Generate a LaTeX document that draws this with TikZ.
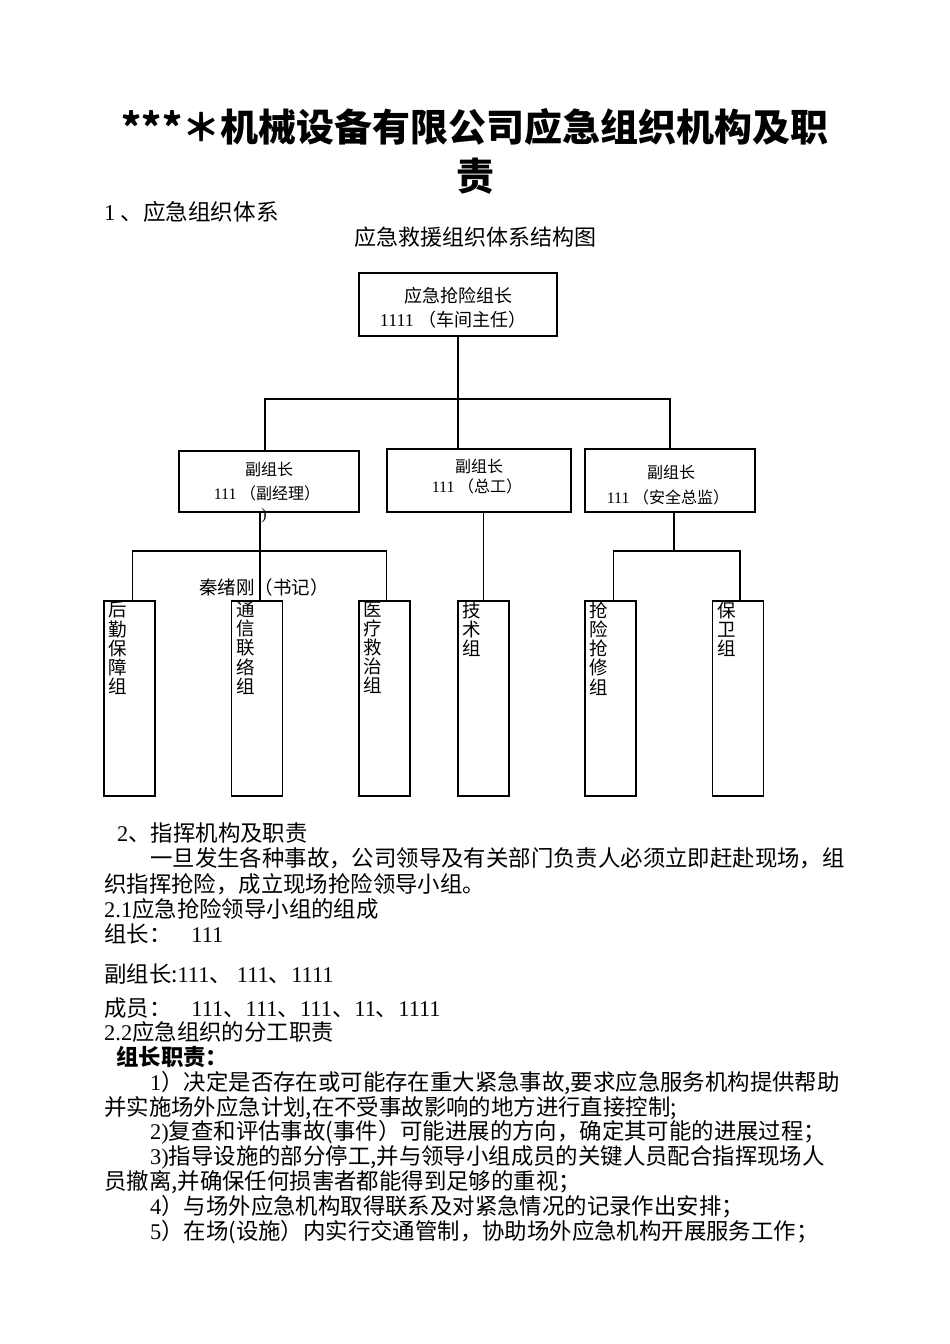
\documentclass[tikz,border=0pt]{standalone}
\usepackage{fontspec}
\setmainfont{Liberation Serif}
\newfontfamily\cjk{Noto Sans CJK SC}
\newcommand{\zh}[1]{\cjk\fontsize{#1}{#1}\selectfont}
\newcommand{\lat}[1]{{\rmfamily #1}}
\usetikzlibrary{positioning}

\begin{document}
\begin{tikzpicture}[x=1pt,y=-1pt]
\useasboundingbox (0,0) rectangle (950,1344);
% heading
\begin{scope}[every node/.style={inner sep=0pt}]
    \node[font={\zh{38}\bfseries}] (title1) at (475,127) {***＊机械设备有限公司应急组织机构及职};
    \node[font={\zh{38}\bfseries}] (title2) at (475,176) {责};
    \node[font=\zh{22.6}, anchor=west] (sec1) at (104,212) {\lat{1} 、应急组织体系};
    \node[font=\zh{22}] (charttitle) at (475,237) {应急救援组织体系结构图};
\end{scope}
% boxes of the chart
\begin{scope}[every node/.style={draw,line width=1.3pt,inner sep=0pt},
              groupbox/.style={minimum width=51pt,minimum height=195pt}]
    \node[minimum width=198pt,minimum height=63pt] (leader) at (458,304.5) {};
    \node[minimum width=180pt,minimum height=61pt] (dep1) at (269,481.5) {};
    \node[minimum width=184pt,minimum height=63pt] (dep2) at (479,480.5) {};
    \node[minimum width=170pt,minimum height=63pt] (dep3) at (670,480.5) {};
    \node[groupbox] (g1) at (129.5,698.5) {};
    \node[groupbox] (g2) at (257,698.5) {};
    \node[groupbox] (g3) at (384.5,698.5) {};
    \node[groupbox] (g4) at (483.5,698.5) {};
    \node[groupbox] (g5) at (610.5,698.5) {};
    \node[groupbox] (g6) at (738,698.5) {};
\end{scope}
% texts of the chart
\begin{scope}[every node/.style={inner sep=0pt,font=\zh{16}},
              grouptext/.style={anchor=north west,align=left,xshift=5pt,yshift=-1pt,
                                font={\cjk\fontsize{18.5}{19.2}\selectfont}}]
    \node[font=\zh{18}] (lead1) at (458,296) {应急抢险组长};
    \node[font=\zh{18}] (lead2) at (453,320) {\lat{1111} （车间主任）};
    \node (dep1a) at (269,469) {副组长};
    \node (dep1b) at (267,493) {\lat{111} （副经理）};
    \node (dep1c) at (264,516) {\lat{)}};
    \node (dep2a) at (479,466) {副组长};
    \node (dep2b) at (477,486) {\lat{111} （总工）};
    \node (dep3a) at (671,472) {副组长};
    \node (dep3b) at (668,497) {\lat{111} （安全总监）};
    \node[font=\zh{18.5}] (secretary) at (264,587) {秦绪刚（书记）};
    \node[grouptext] (g1t) at (g1.north west) {后\\勤\\保\\障\\组};
    \node[grouptext] (g2t) at (g2.north west) {通\\信\\联\\络\\组};
    \node[grouptext] (g3t) at (g3.north west) {医\\疗\\救\\治\\组};
    \node[grouptext] (g4t) at (g4.north west) {技\\术\\组};
    \node[grouptext] (g5t) at (g5.north west) {抢\\险\\抢\\修\\组};
    \node[grouptext] (g6t) at (g6.north west) {保\\卫\\组};
\end{scope}
% connectors
\begin{scope}[line width=1.3pt]
    \coordinate (bus) at (458,399);
    \coordinate (lbus) at (257,551);
    \coordinate (rbus) at (674,551);
    \draw (leader.south) -- (leader.south |- dep2.north);
    \draw ([xshift=-4pt]dep1.north) |- (bus) -| (dep3.north);
    \draw ([xshift=3pt]dep1.south -| g2.north) -- ([xshift=3pt]g2.north);
    \draw ([xshift=3pt]g1.north) |- (lbus) -| ([xshift=2pt]g3.north);
    \draw (dep2.south -| g4.north) -- (g4.north);
    \draw (dep3.south -| rbus) -- (rbus);
    \draw ([xshift=3pt]g5.north) |- (rbus) -| ([xshift=2pt]g6.north);
\end{scope}
% text below the chart
\begin{scope}[every node/.style={anchor=west,inner sep=0pt,font=\zh{22.4}}]
    \node (t1) at (117,833) {\lat{2}、指挥机构及职责};
    \node (t2) at (150,858) {一旦发生各种事故，公司领导及有关部门负责人必须立即赶赴现场，组};
    \node (t3) at (104,884) {织指挥抢险，成立现场抢险领导小组。};
    \node (t4) at (104,909) {\lat{2.1}应急抢险领导小组的组成};
    \node (t5) at (104,934) {组长：\hspace{20pt}\lat{111}};
    \node (t6) at (104,974) {副组长:\lat{111}、 \lat{111}、\lat{1111}};
    \node (t7) at (104,1008) {成员：\hspace{20pt}\lat{111}、\lat{111}、\lat{111}、\lat{11}、\lat{1111}};
    \node (t8) at (104,1032) {\lat{2.2}应急组织的分工职责};
    \node (t9) at (116,1057) {\bfseries 组长职责：};
    \node (t10) at (150,1083) {\lat{1}）决定是否存在或可能存在重大紧急事故,要求应急服务机构提供帮助};
    \node (t11) at (104,1108) {并实施场外应急计划,在不受事故影响的地方进行直接控制;};
    \node (t12) at (150,1132) {\lat{2)}复查和评估事故(事件）可能进展的方向，确定其可能的进展过程；};
    \node (t13) at (150,1157) {\lat{3)}指导设施的部分停工,并与领导小组成员的关键人员配合指挥现场人};
    \node (t14) at (104,1182) {员撤离,并确保任何损害者都能得到足够的重视；};
    \node (t15) at (150,1207) {\lat{4}）与场外应急机构取得联系及对紧急情况的记录作出安排；};
    \node (t16) at (150,1232) {\lat{5}）在场(设施）内实行交通管制，协助场外应急机构开展服务工作；};
\end{scope}
\end{tikzpicture}
\end{document}
